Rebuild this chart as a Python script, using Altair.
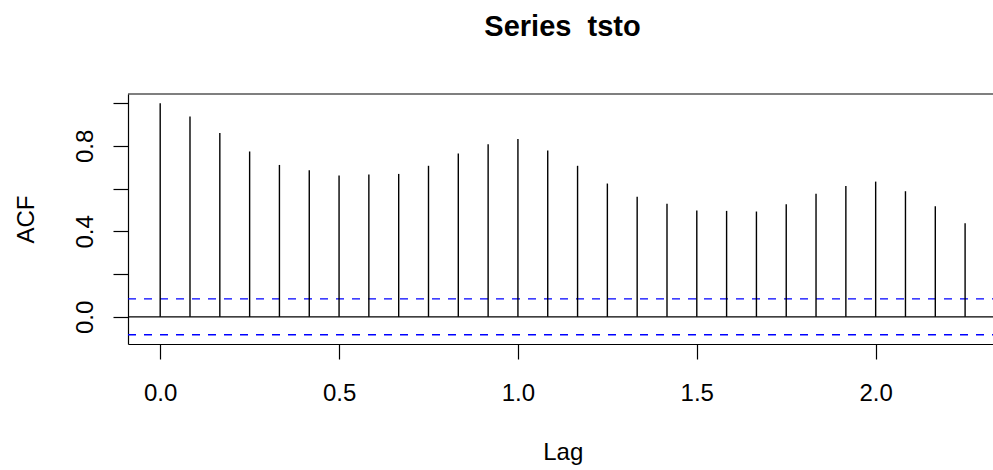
import altair as alt
import pandas as pd

# Lag (in years, monthly series) and autocorrelation values
lags = [0.0000, 0.0833, 0.1667, 0.2500, 0.3333, 0.4167, 0.5000, 0.5833, 0.6667, 0.7500,
        0.8333, 0.9167, 1.0000, 1.0833, 1.1667, 1.2500, 1.3333, 1.4167, 1.5000, 1.5833,
        1.6667, 1.7500, 1.8333, 1.9167, 2.0000, 2.0833, 2.1667, 2.2500]
acf = [1.000, 0.938, 0.860, 0.774, 0.711, 0.686, 0.661, 0.666, 0.669, 0.707,
       0.764, 0.808, 0.832, 0.779, 0.707, 0.624, 0.562, 0.529, 0.498, 0.496,
       0.493, 0.527, 0.576, 0.613, 0.633, 0.588, 0.518, 0.438]
ci = 0.084
x_domain = [-0.09, 2.328]
y_domain = [-0.127, 1.043]
x_ticks = [0.0, 0.5, 1.0, 1.5, 2.0]
y_ticks = [0.0, 0.2, 0.4, 0.6, 0.8, 1.0]

FONT = "Liberation Sans"

bars_df = pd.DataFrame({"lag": lags, "acf": acf, "base": [0.0] * len(lags)})
hlines_df = pd.DataFrame({
    "y": [0.0, ci, -ci, y_domain[1]],
    "x1": [x_domain[0]] * 4,
    "x2": [x_domain[1]] * 4,
    "kind": ["zero", "ci", "ci", "box"],
})

xs = alt.Scale(domain=x_domain, nice=False, zero=False)
ys = alt.Scale(domain=y_domain, nice=False, zero=False)

x_axis = alt.Axis(
    values=x_ticks, format=".1f", grid=False,
    tickSize=15, tickColor="black", tickWidth=1.2,
    domainColor="black", domainWidth=1.2,
    labelFont=FONT, labelFontSize=24, labelColor="black",
    labelBaseline="alphabetic", labelAlign="center", labelPadding=41,
    labelFlush=False, labelOverlap=False,
    title="Lag", titleFont=FONT, titleFontSize=24, titleFontWeight="normal",
    titleColor="black", titleBaseline="alphabetic", titleY=115, titleX=434.7,
)
y_axis = alt.Axis(
    values=y_ticks, grid=False,
    labelExpr="(round(datum.value*10) % 4 == 0) ? format(datum.value, '.1f') : ''",
    tickSize=15, tickColor="black", tickWidth=1.2,
    domainColor="black", domainWidth=1.2,
    labelFont=FONT, labelFontSize=24, labelColor="black",
    labelAngle=-90, labelAlign="center", labelBaseline="alphabetic", labelPadding=21,
    labelFlush=False, labelOverlap=False,
    title="ACF", titleFont=FONT, titleFontSize=24, titleFontWeight="normal",
    titleColor="black", titleAngle=270, titleAlign="center", titleBaseline="alphabetic",
    titleX=-94.7, titleY=125,
)

bars = alt.Chart(bars_df).mark_rule(color="black", strokeWidth=1.4).encode(
    x=alt.X("lag:Q", scale=xs, axis=x_axis),
    y=alt.Y("base:Q", scale=ys, axis=y_axis),
    y2="acf:Q",
)

solid = alt.Chart(hlines_df).transform_filter("datum.kind != 'ci'").mark_rule(
    color="black", strokeWidth=1.2
).encode(
    x=alt.X("x1:Q", scale=xs), x2="x2:Q", y=alt.Y("y:Q", scale=ys)
)

dashed = alt.Chart(hlines_df).transform_filter("datum.kind == 'ci'").mark_rule(
    color="#0000FF", strokeWidth=1.4, strokeDash=[8, 8]
).encode(
    x=alt.X("x1:Q", scale=xs), x2="x2:Q", y=alt.Y("y:Q", scale=ys)
)

chart = alt.layer(dashed, solid, bars).properties(
    width=865, height=250,
    padding={"left": 128, "top": 94, "right": 0, "bottom": 126},
    autosize=alt.AutoSizeParams(type="none"),
    background="white",
    title=alt.TitleParams(
        "Series\u00a0 tsto", font=FONT, fontSize=29, fontWeight="bold", color="black",
        anchor="middle", baseline="alphabetic", offset=28, dx=2,
    ),
).configure_view(strokeWidth=0)

chart.save("out.html", embed_options={"renderer": "svg", "actions": False})
